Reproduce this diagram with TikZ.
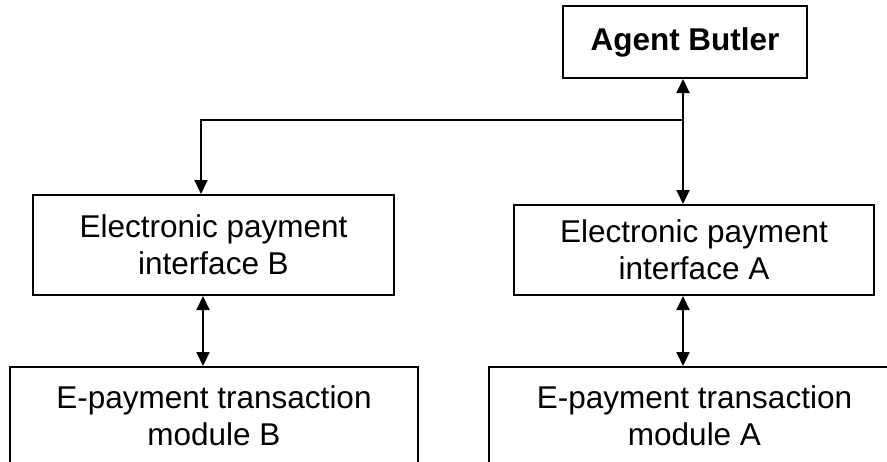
\documentclass[tikz,border=0pt]{standalone}
\usepackage{fontspec}
\setmainfont{Liberation Sans}
\usetikzlibrary{arrows.meta,positioning}
\tikzstyle{box}=[draw,line width=1pt,align=center,inner sep=0pt,font=\fontsize{15.75}{18.5}\selectfont]
\tikzstyle{link} = [draw,line width=1pt,{Triangle[length=7pt,width=6.5pt]}-{Triangle[length=7pt,width=6.5pt]}]
\tikzstyle{feed} = [draw,line width=1pt,-{Triangle[length=7pt,width=6.5pt]}]

\begin{document}
\begin{tikzpicture}[x=0.5pt,y=-0.5pt]
\useasboundingbox (0,0) rectangle (887,461);

% First we draw the boxes
\node[box,minimum width=122pt,minimum height=36pt,font=\fontsize{15.75}{18.5}\selectfont\bfseries] (butler) at (685,42) {Agent Butler};
\node[box,minimum width=180.5pt,minimum height=50pt] (ifaceB) at (213.5,245) {Electronic payment\\interface B};
\node[box,minimum width=180pt,minimum height=45pt] (ifaceA) at (694,250) {Electronic payment\\interface A};
\node[box,minimum width=204pt,minimum height=49pt] (modB) at (214,416) {E-payment transaction\\module B};
\node[box,minimum width=205.5pt,minimum height=49pt] (modA) at (694.5,416) {E-payment transaction\\module A};

% Connector points
\coordinate (junction) at (683,120);
\coordinate (elbow) at (201,120);
\coordinate (downB) at (203,0);

% Then the connectors
\path[link] (butler.south -| junction) -- (ifaceA.north -| junction);
\path[feed] (junction) -- (elbow) -- (elbow |- ifaceB.north);
\path[link] (ifaceB.south -| downB) -- (modB.north -| downB);
\path[link] (ifaceA.south -| junction) -- (modA.north -| junction);

\end{tikzpicture}
\end{document}
